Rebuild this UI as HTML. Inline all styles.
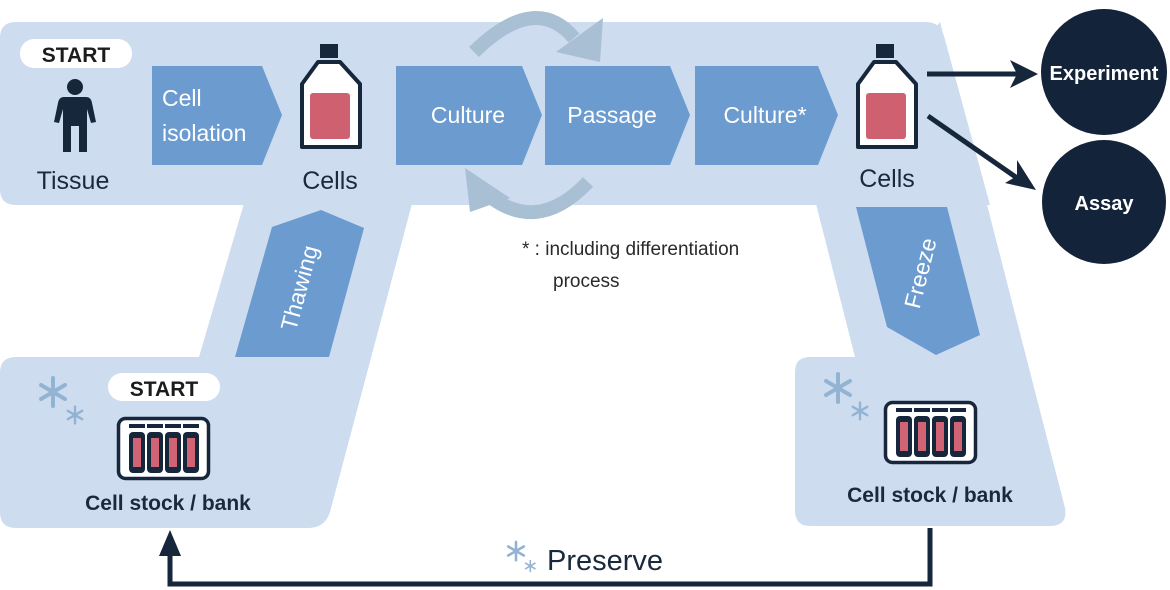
<!DOCTYPE html>
<html><head><meta charset="utf-8"><style>
html,body{margin:0;padding:0;background:#fff;}
svg{display:block;}
text{font-family:"Liberation Sans",sans-serif;}
</style></head><body>
<svg width="1170" height="590" viewBox="0 0 1170 590" xmlns="http://www.w3.org/2000/svg">
<defs>
<g id="rack">
<rect x="118.5" y="418.5" width="90" height="60" rx="7" fill="#fff" stroke="#16263b" stroke-width="3.5"/>
<g fill="#16263b">
<rect x="129" y="424" width="16" height="4"/><rect x="147" y="424" width="16" height="4"/><rect x="165" y="424" width="16" height="4"/><rect x="183" y="424" width="16" height="4"/>
<rect x="129" y="432" width="16" height="41" rx="4"/><rect x="147" y="432" width="16" height="41" rx="4"/><rect x="165" y="432" width="16" height="41" rx="4"/><rect x="183" y="432" width="16" height="41" rx="4"/>
</g>
<g fill="#d06474">
<rect x="133" y="438" width="8" height="29"/><rect x="151" y="438" width="8" height="29"/><rect x="169" y="438" width="8" height="29"/><rect x="187" y="438" width="8" height="29"/>
</g>
</g>
<g id="bottle">
<rect x="320" y="44" width="18" height="14" fill="#16263b"/>
<path d="M318 62 H340 L360 84 V147 H302 V84 Z" fill="#fff" stroke="#16263b" stroke-width="4" stroke-linejoin="round"/>
<rect x="310" y="93" width="40" height="46" rx="3" fill="#cf6070"/>
</g>
<g id="flake" stroke="#93b3d3" stroke-width="4" stroke-linecap="round">
<line x1="0" y1="-14" x2="0" y2="14"/><line x1="-12" y1="-7" x2="12" y2="7"/><line x1="-12" y1="7" x2="12" y2="-7"/>
</g>
<g id="flakes">
<use href="#flake"/>
<g transform="translate(22,23) scale(0.6)"><use href="#flake"/></g>
</g>
</defs>

<!-- light background shapes -->
<g fill="#cddcef">
<path d="M16 22 H926 Q940 22 944 36 L990 205 H16 Q0 205 0 189 V38 Q0 22 16 22 Z"/>
<path d="M245 200 L413 200 L330 512 Q325 528 308 528 L16 528 Q0 528 0 512 L0 373 Q0 357 16 357 L199 357 Z"/>
<path d="M800 200 L940 22 L1065 508 Q1068 526 1050 526 L810 526 Q795 526 795 510 L795 372 Q795 357 810 357 L855 357 L815 200 Z"/>
</g>

<!-- cycle arrows -->
<g fill="none" stroke="#a9bfd4" stroke-width="14">
<path d="M474 52 Q535 -8 574 38"/>
<path d="M588 182 Q535 238 482 190"/>
</g>
<polygon points="603,18 600,62 556,52" fill="#a9bfd4"/>
<polygon points="465,168 470,212 510,198" fill="#a9bfd4"/>

<!-- step arrows -->
<g fill="#6b9bcf">
<polygon points="152,66 262,66 282,115 262,165 152,165"/>
<polygon points="396,66 522,66 542,115 522,165 396,165"/>
<polygon points="545,66 670,66 690,115 670,165 545,165"/>
<polygon points="695,66 818,66 838,115 818,165 695,165"/>
<polygon points="235,357 272,227 321,210 364,228 329,357"/>
<polygon points="856,207 947,207 980,335 936,355 887,327"/>
</g>
<g fill="#fff" font-size="23">
<text x="162" y="106">Cell</text>
<text x="162" y="141">isolation</text>
<text x="468" y="123" text-anchor="middle">Culture</text>
<text x="612" y="123" text-anchor="middle">Passage</text>
<text x="765" y="123" text-anchor="middle">Culture*</text>
<text transform="translate(307,290) rotate(-75)" text-anchor="middle">Thawing</text>
<text transform="translate(928,275) rotate(-76)" text-anchor="middle">Freeze</text>
</g>

<!-- START pills -->
<rect x="20" y="39" width="112" height="29" rx="14" fill="#fff"/>
<text x="76" y="62" text-anchor="middle" font-size="21" font-weight="bold" fill="#1c1c1c">START</text>
<rect x="108" y="373" width="112" height="28" rx="14" fill="#fff"/>
<text x="164" y="396" text-anchor="middle" font-size="21" font-weight="bold" fill="#1c1c1c">START</text>

<!-- person -->
<g fill="#16263b">
<circle cx="75" cy="87" r="8"/>
<path d="M64 97 H86 Q91 97 92 103 L96 122 L91 123 L87 109 V152 H79 V126 H71 V152 H63 V109 L59 123 L54 122 L58 103 Q59 97 64 97 Z"/>
</g>
<text x="73" y="189" text-anchor="middle" font-size="25" fill="#1a2a3c">Tissue</text>

<use href="#bottle"/>
<text x="330" y="189" text-anchor="middle" font-size="25" fill="#1a2a3c">Cells</text>
<use href="#bottle" transform="translate(556,0)"/>
<text x="887" y="187" text-anchor="middle" font-size="25" fill="#1a2a3c">Cells</text>

<!-- arrows to circles -->
<g stroke="#16263b" stroke-width="5" fill="none">
<line x1="927" y1="74" x2="1018" y2="74"/>
<line x1="928" y1="116" x2="1020" y2="180"/>
</g>
<polygon points="1038,74 1010,60 1017,74 1010,88" fill="#16263b"/>
<polygon points="1036,190 1005,183 1017,176 1017,160" fill="#16263b"/>

<circle cx="1104" cy="72" r="63" fill="#132339"/>
<circle cx="1104" cy="202" r="62" fill="#132339"/>
<text x="1104" y="80" text-anchor="middle" font-size="20" font-weight="bold" fill="#fff">Experiment</text>
<text x="1104" y="210" text-anchor="middle" font-size="20" font-weight="bold" fill="#fff">Assay</text>

<text x="522" y="255" font-size="19" fill="#2a2a2a">* : including differentiation</text>
<text x="553" y="287" font-size="19" fill="#2a2a2a">process</text>

<!-- snowflakes -->
<use href="#flakes" transform="translate(53,392)"/>
<use href="#flakes" transform="translate(838,388)"/>
<use href="#flakes" transform="translate(516,551) scale(0.65)"/>

<use href="#rack"/>
<use href="#rack" transform="translate(767,-16)"/>
<text x="168" y="510" text-anchor="middle" font-size="21" font-weight="bold" fill="#1a2a3c">Cell stock / bank</text>
<text x="930" y="502" text-anchor="middle" font-size="21" font-weight="bold" fill="#1a2a3c">Cell stock / bank</text>

<!-- preserve loop -->
<path d="M930 528 V584 H170 V548" fill="none" stroke="#16263b" stroke-width="5"/>
<polygon points="170,530 159,556 181,556" fill="#16263b"/>
<text x="547" y="570" font-size="29" fill="#1a2a3c">Preserve</text>
</svg>
</body></html>
